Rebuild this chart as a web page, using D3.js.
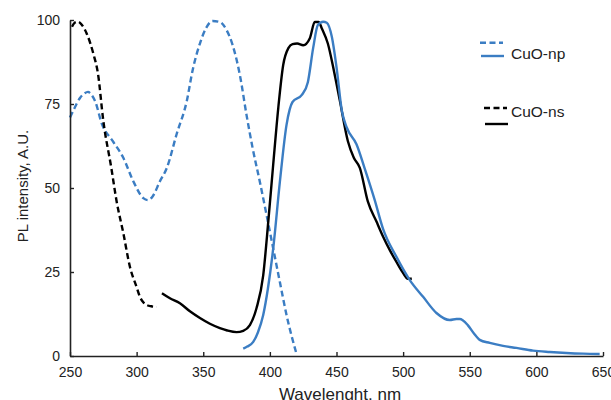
<!DOCTYPE html>
<html><head><meta charset="utf-8">
<script src="https://cdn.jsdelivr.net/npm/d3@7"></script>
<style>body{margin:0;background:#fff;} svg{display:block;font-family:Arial,"Liberation Sans",sans-serif;}</style>
</head><body>
<svg id="c" width="611" height="400"></svg>
<script>
const xTicks = [250,300,350,400,450,500,550,600,650];
const yTicks = [0,25,50,75,100];
const seriesNames = ["CuO-np","CuO-ns"];

// CuO-ns excitation (black dashed)
const nsExWl = [251.5,253.5,256,259,262.5,267.5,271,275,281,285,290,295,300,302.5,305,307.5,311,315];
const nsExI  = [98,99.2,99.5,98.5,96,90,84,70,56,46,36.6,26.5,20.5,17.6,16,15.2,14.8,14.6];
// CuO-ns emission (black solid)
const nsEmWl = [319,325,332.5,340,347.5,355,362.5,368,375,380,385,390,395,398.8,402.5,406.3,410,414,417,420.5,425,430,433.7,436.6,439,443.5,448,452.5,458.5,463,467.5,473.5,480,485,490,495,500,503.5,506.5];
const nsEmI  = [18.7,17.2,15.7,13.3,11.3,9.6,8.3,7.6,7.1,7.5,9.2,14.3,24,40,57,73.8,86.6,91.7,92.8,93,92.5,94.6,99.4,99.4,97.5,93,85,76,64,59,56,46,40,35.5,31.5,28,24.7,23,23];
// CuO-np excitation (blue dashed)
const npExWl = [250,253,257.5,261,263.5,266,268.7,274,282,290,297.5,305,308.5,312,317.5,322.7,330,337.7,342,347.5,352,357,362.5,367.5,372,377.5,382.5,387,392.5,397.5,402.5,407.5,412.5,420];
const npExI  = [71,73.5,76.8,78.2,78.6,77.8,76,69,64,59,52,47,46.4,47.5,52,56,66,76,85,93,97.5,99.7,99.4,97,92.6,83.6,71.7,62,51.8,42,32,22,12.2,0.6];
// CuO-np emission (blue solid)
const npEmWl = [380,383,387.5,391,395,398.5,402.5,407.5,412.5,417,424,428.5,432.5,436,440,442.7,446.5,450,454,457.7,465,471,478.7,484.8,495,505,515,525,535,540,542.5,548.5,553,557.5,565,575,585,597.5,610,622.5,635,647.5];
const npEmI  = [2.2,2.8,4.2,7,12.2,20,32,51.8,68.8,75.6,77.7,81.5,91.7,98.5,99.5,99.2,95,86,73,68,63,56,46.4,38,29.5,22.6,17.6,12.8,10.7,11,11,9.2,6.8,4.8,3.9,3,2.4,1.6,1.2,0.9,0.7,0.6];

const blue = "#3b7dc3";
const svg = d3.select("#c");
const x = d3.scaleLinear().domain([250,650]).range([70,603]);
const y = d3.scaleLinear().domain([0,100]).range([356,20]);

const line = d3.line().x(d=>x(d[0])).y(d=>y(d[1])).curve(d3.curveMonotoneX);
const zip = (a,b)=>a.map((v,i)=>[v,b[i]]);

const series = [
  {wl:npExWl, v:npExI, color:blue, dash:"6,3.5"},
  {wl:nsExWl, v:nsExI, color:"#000", dash:"6,3.5"},
  {wl:nsEmWl, v:nsEmI, color:"#000", dash:null},
  {wl:npEmWl, v:npEmI, color:blue, dash:null},
];
series.forEach(s=>{
  svg.append("path").attr("d", line(zip(s.wl,s.v)))
    .attr("fill","none").attr("stroke",s.color).attr("stroke-width",2.4)
    .attr("stroke-dasharray", s.dash).attr("stroke-linejoin","round");
});

// axes
const xAxis = d3.axisBottom(x).tickValues(xTicks).tickSizeInner(-4).tickSizeOuter(0).tickPadding(16);
const gx = svg.append("g").attr("transform","translate(0,356)").call(xAxis);
const yAxis = d3.axisLeft(y).tickValues(yTicks).tickSizeInner(-4).tickSizeOuter(0).tickPadding(10);
const gy = svg.append("g").attr("transform","translate(70,0)").call(yAxis);
[gx,gy].forEach(g=>{
  g.select(".domain").attr("stroke","#222").attr("stroke-width",1.6);
  g.selectAll(".tick line").attr("stroke","#222").attr("stroke-width",1.4);
  g.selectAll("text").attr("font-size",14).attr("fill","#222").attr("font-family","Arial,'Liberation Sans',sans-serif");
});
gx.selectAll("text").attr("dy","0.35em");

svg.append("text").attr("x",340).attr("y",400).attr("text-anchor","middle")
  .attr("font-size",17).attr("fill","#222").text("Wavelenght, nm");
svg.append("text").attr("transform","translate(28,186) rotate(-90)").attr("text-anchor","middle")
  .attr("font-size",15).attr("fill","#222").text("PL intensity, A.U.");

// legend
const leg = [
  {name:seriesNames[0], color:blue, yd:42.7, ys:56, x0:480, ty:59},
  {name:seriesNames[1], color:"#000", yd:108, ys:124, x0:484, ty:117},
];
leg.forEach(l=>{
  svg.append("line").attr("x1",l.x0).attr("x2",l.x0+23).attr("y1",l.yd).attr("y2",l.yd)
    .attr("stroke",l.color).attr("stroke-width",2.4).attr("stroke-dasharray","6,3.5");
  svg.append("line").attr("x1",l.x0+1).attr("x2",l.x0+24).attr("y1",l.ys).attr("y2",l.ys)
    .attr("stroke",l.color).attr("stroke-width",2.4);
  svg.append("text").attr("x",511).attr("y",l.ty).attr("font-size",15.5).attr("fill","#222").text(l.name);
});
</script>
</body></html>
